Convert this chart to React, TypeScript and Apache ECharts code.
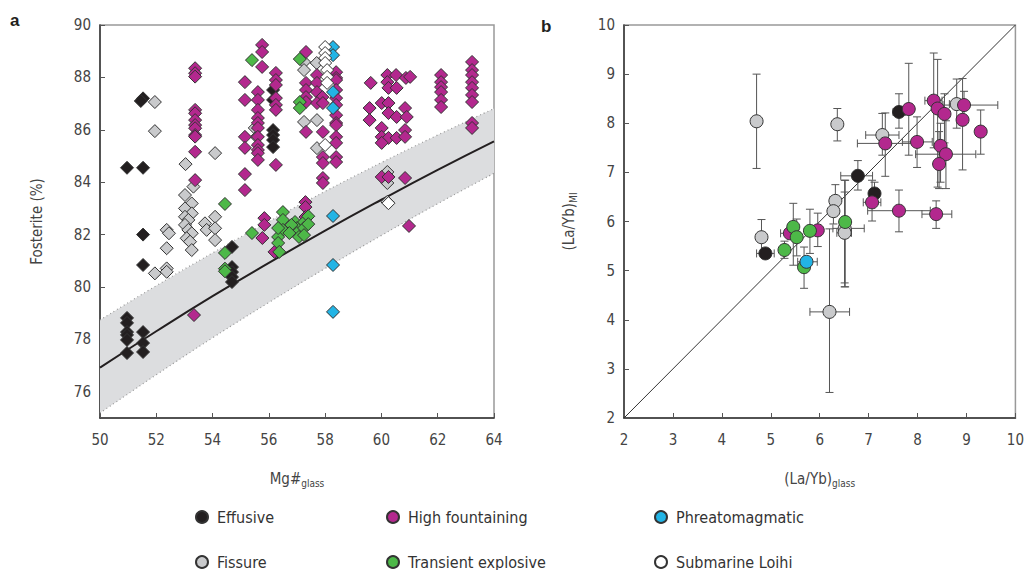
import React, { useEffect, useRef } from "react";
import * as echarts from "echarts";

// ---------- Panel a: Fo vs Mg#glass ----------
const mgTicks = [50, 52, 54, 56, 58, 60, 62, 64];
const foTicks = [76, 78, 80, 82, 84, 86, 88, 90];
// equilibrium curve and envelope
const curveMg = [50, 52, 54, 56, 58, 60, 62, 64];
const curveFo = [76.92, 78.31, 79.65, 80.92, 82.15, 83.33, 84.47, 85.56];
const upperFo = [78.74, 80.05, 81.3, 82.5, 83.65, 84.75, 85.8, 86.81];
const lowerFo = [75.19, 76.65, 78.06, 79.41, 80.71, 81.97, 83.18, 84.34];

const aEffusive = [
  [50.96, 78.82], [50.96, 78.63], [50.96, 78.28], [50.96, 78.17], [50.96, 77.98], [50.96, 77.48],
  [51.53, 78.28], [51.53, 77.86], [51.53, 77.52], [50.96, 84.55], [51.53, 84.55],
  [51.53, 87.2], [51.45, 87.1], [51.53, 82.0], [51.53, 80.84],
  [54.69, 81.53], [54.69, 80.76], [54.69, 80.57], [54.69, 80.38], [54.69, 80.19],
  [56.15, 87.52], [56.15, 87.14], [56.15, 85.99], [56.15, 85.8], [56.15, 85.61], [56.15, 85.34],
];
const aFissure = [
  [51.95, 87.06], [51.95, 85.95], [51.95, 80.52], [52.37, 80.71], [52.37, 80.58],
  [52.37, 82.18], [52.45, 82.05], [52.37, 81.48], [53.04, 84.69], [53.32, 83.83],
  [53.02, 83.51], [53.26, 83.19], [53.02, 83.0], [53.26, 82.81], [53.02, 82.68], [53.14, 82.56],
  [53.02, 82.37], [53.14, 82.18], [53.26, 82.05], [53.08, 81.86], [53.2, 81.73], [53.26, 81.41],
  [53.73, 82.43], [53.79, 82.18], [54.09, 82.68], [54.09, 82.24], [54.09, 81.79], [54.09, 85.11],
  [55.5, 86.07], [55.57, 85.73], [57.25, 88.59], [57.25, 88.28], [57.25, 86.3], [57.7, 88.55],
  [57.71, 86.37], [57.71, 85.3], [60.21, 84.39], [60.21, 83.97], [60.21, 83.25],
];
const aHighFountaining = [
  [53.38, 88.35], [53.38, 88.16], [53.38, 88.03], [53.38, 86.76], [53.38, 86.63], [53.38, 86.37],
  [53.38, 86.18], [53.38, 86.06], [53.38, 85.8], [53.38, 85.74], [53.38, 85.16], [53.38, 84.08],
  [53.34, 78.93],
  [55.15, 87.82], [55.15, 87.14], [55.15, 85.73], [55.15, 85.31], [55.15, 84.31], [55.15, 83.7],
  [55.76, 89.24], [55.76, 88.97], [55.76, 88.4], [55.61, 87.44], [55.61, 87.14], [55.61, 86.76],
  [55.61, 86.45], [55.61, 86.26], [55.61, 86.07], [55.61, 85.73], [55.61, 85.42], [55.61, 85.23],
  [55.61, 85.11], [55.61, 84.85],
  [56.25, 88.17], [56.25, 87.9], [56.25, 87.71], [56.25, 87.21], [56.25, 86.95], [56.25, 86.76],
  [56.25, 84.66], [55.84, 82.63], [55.84, 82.37], [55.77, 81.87], [56.2, 81.34],
  [57.32, 88.97], [57.32, 87.79], [57.32, 87.52], [57.32, 87.25], [57.32, 87.06], [57.32, 85.92],
  [57.3, 83.24], [57.3, 83.05], [57.3, 82.67],
  [57.71, 88.09], [57.71, 87.79], [57.71, 87.44], [57.9, 87.25], [57.71, 87.02], [57.92, 87.02],
  [57.92, 85.92], [57.92, 84.96], [57.92, 84.73], [57.92, 84.16], [57.92, 83.97],
  [58.39, 88.2], [58.39, 87.98], [58.39, 87.9], [58.39, 87.52], [58.39, 87.21], [58.39, 86.95],
  [58.39, 86.56], [58.39, 86.26], [58.39, 86.18], [58.39, 85.73], [58.39, 85.5], [58.39, 84.96],
  [58.39, 84.77],
  [59.62, 87.79], [59.58, 86.83], [59.58, 86.37],
  [60.21, 88.09], [60.52, 88.09], [60.87, 87.98], [61.02, 88.02], [60.21, 87.82], [60.25, 87.6],
  [60.54, 87.6], [60.01, 87.02], [60.25, 87.02], [60.25, 86.64], [60.54, 86.49], [60.84, 86.83],
  [60.9, 86.49], [60.01, 86.07], [60.01, 85.73], [60.25, 85.69], [60.54, 85.69], [60.84, 85.99],
  [60.84, 85.73], [60.01, 85.5], [60.01, 84.2], [60.25, 84.2], [60.84, 84.16], [60.98, 82.33],
  [62.12, 88.09], [62.12, 87.82], [62.12, 87.63], [62.12, 87.44], [62.12, 87.14], [62.12, 86.87],
  [63.22, 88.59], [63.22, 88.28], [63.22, 88.09], [63.22, 87.82], [63.22, 87.6], [63.22, 87.33],
  [63.22, 87.06], [63.22, 86.26], [63.22, 86.07],
];
const aTransientExplosive = [
  [54.44, 83.17], [54.44, 81.3], [54.44, 80.7], [54.44, 80.6], [55.4, 88.66], [55.4, 82.06],
  [57.1, 88.7], [57.1, 87.06], [57.1, 86.83],
  [56.5, 82.86], [56.5, 82.56], [56.5, 82.18], [56.33, 81.91], [56.33, 81.68], [56.37, 81.34],
  [56.93, 82.48], [57.0, 82.25], [57.0, 82.06], [57.07, 81.91], [57.25, 82.48], [57.25, 82.25],
  [57.25, 81.98], [56.8, 82.37], [56.73, 82.06], [56.33, 82.25], [57.4, 82.7], [57.4, 82.4],
];
const aPhreatomagmatic = [
  [58.28, 89.16], [58.28, 88.85], [58.28, 87.44], [58.28, 86.83], [58.28, 82.71], [58.28, 80.84],
  [58.28, 79.05],
];
const aSubmarineLoihi = [
  [58.0, 89.16], [58.0, 88.93], [58.0, 88.74], [58.0, 88.55], [58.07, 88.28], [58.07, 88.02],
  [58.07, 87.79], [58.0, 85.42], [60.25, 83.2],
];

// ---------- Panel b: (La/Yb)MI vs (La/Yb)glass ----------
// each row: x, y, x low, x high, y low, y high
const bEffusive = [
  [4.89, 5.35, 4.71, 5.07, 5.25, 5.45],
  [6.78, 6.93, 6.43, 7.08, 6.64, 7.24],
  [7.12, 6.57, 7.12, 7.12, 6.35, 6.8],
  [7.62, 8.23, 7.5, 7.75, 7.9, 8.6],
];
const bFissure = [
  [4.71, 8.04, 4.71, 4.71, 7.08, 9.0],
  [4.81, 5.68, 4.81, 4.81, 5.35, 6.04],
  [6.36, 7.98, 6.3, 6.42, 7.64, 8.3],
  [7.28, 7.76, 6.94, 7.62, 7.35, 8.2],
  [8.8, 8.39, 8.65, 8.95, 7.9, 8.9],
  [6.2, 4.16, 5.8, 6.61, 2.52, 5.85],
  [6.32, 6.42, 6.32, 6.32, 6.15, 6.75],
  [6.28, 6.21, 6.28, 6.28, 5.95, 6.5],
  [6.51, 5.86, 6.27, 6.91, 4.67, 6.84],
  [6.51, 5.77, 6.35, 6.65, 4.75, 6.6],
];
const bHighFountaining = [
  [5.39, 5.76, 5.2, 5.55, 5.76, 5.76],
  [5.96, 5.82, 5.96, 5.96, 5.49, 6.17],
  [7.07, 6.39, 6.89, 7.25, 6.01, 6.84],
  [7.62, 6.22, 6.98, 8.26, 5.79, 6.64],
  [8.38, 6.15, 8.09, 8.7, 5.86, 6.42],
  [7.82, 8.29, 7.82, 7.82, 7.35, 9.22],
  [7.34, 7.59, 6.77, 8.0, 6.92, 8.21],
  [7.99, 7.62, 7.69, 8.3, 7.1, 8.13],
  [8.33, 8.46, 8.15, 8.5, 7.5, 9.43],
  [8.41, 8.3, 8.41, 8.41, 6.7, 9.3],
  [8.55, 8.19, 8.45, 8.65, 7.6, 8.6],
  [8.95, 8.37, 8.52, 9.64, 8.1, 8.65],
  [8.92, 8.07, 8.92, 8.92, 7.05, 8.91],
  [9.29, 7.83, 9.29, 9.29, 7.37, 8.27],
  [8.47, 7.54, 8.47, 8.47, 6.8, 8.0],
  [8.58, 7.37, 7.96, 9.19, 6.67, 8.05],
  [8.44, 7.17, 8.44, 8.44, 6.67, 7.83],
];
const bTransientExplosive = [
  [5.28, 5.42, 5.28, 5.28, 5.25, 5.6],
  [5.46, 5.89, 5.46, 5.46, 5.11, 6.37],
  [5.53, 5.68, 5.45, 5.62, 5.3, 6.05],
  [5.8, 5.81, 5.8, 5.8, 5.35, 6.25],
  [5.68, 5.07, 5.68, 5.68, 4.64, 5.48],
  [6.52, 5.99, 6.52, 6.52, 4.67, 6.84],
];
const bPhreatomagmatic = [[5.73, 5.18, 5.55, 5.95, 5.18, 5.18]];
const bSubmarineLoihi: number[][] = [];
const diagonal = [[2, 2], [10, 10]];

const categories = [
  { name: "Fissure", color: "#c9cacc", a: aFissure, b: bFissure },
  { name: "Effusive", color: "#231f20", a: aEffusive, b: bEffusive },
  { name: "High fountaining", color: "#b3288e", a: aHighFountaining, b: bHighFountaining },
  { name: "Transient explosive", color: "#4db848", a: aTransientExplosive, b: bTransientExplosive },
  { name: "Phreatomagmatic", color: "#22b4e5", a: aPhreatomagmatic, b: bPhreatomagmatic },
  { name: "Submarine Loihi", color: "#ffffff", a: aSubmarineLoihi, b: bSubmarineLoihi },
];

// legend grid: [name, column, row]
const legendLayout: [string, number, number][] = [
  ["Effusive", 0, 0], ["High fountaining", 1, 0], ["Phreatomagmatic", 2, 0],
  ["Fissure", 0, 1], ["Transient explosive", 1, 1], ["Submarine Loihi", 2, 1],
];
const legendCols = [195, 386, 654];
const legendRows = [509, 554];

const FONT = "'DejaVu Sans Condensed', 'Liberation Sans Narrow', 'Roboto Condensed', Roboto, sans-serif";

export default function App() {
  const ref = useRef<HTMLDivElement>(null);
  useEffect(() => {
    if (!ref.current) return;
    const chart = echarts.init(ref.current, undefined, { renderer: "svg" });

    const axisText = { color: "#444", fontSize: 15, fontFamily: FONT };
    const nameStyle = {
      color: "#444",
      fontSize: 15,
      fontFamily: FONT,
      rich: {
        sub: { fontSize: 10, color: "#444", fontFamily: FONT, verticalAlign: "bottom", padding: [8, 0, 0, 0] },
      },
    };
    const axisLine = { show: true, lineStyle: { color: "#333", width: 1.5 } };
    const tick = { show: true, inside: true, length: 5, lineStyle: { color: "#555" } };

    const series: any[] = [];
    // grey envelope as polygon through the axis scale
    series.push({
      type: "custom", xAxisIndex: 0, yAxisIndex: 0, silent: true, z: 1,
      data: [[curveMg[0], curveFo[0]]],
      renderItem: (params: any, api: any) => {
        const pts: number[][] = [];
        curveMg.forEach((m, i) => pts.push(api.coord([m, upperFo[i]])));
        for (let i = curveMg.length - 1; i >= 0; i--) pts.push(api.coord([curveMg[i], lowerFo[i]]));
        return { type: "polygon", shape: { points: pts, smooth: 0 }, style: { fill: "#dcdddf", stroke: "none" } };
      },
    });
    series.push({
      type: "line", xAxisIndex: 0, yAxisIndex: 0, symbol: "none", silent: true, smooth: true,
      data: curveMg.map((m, i) => [m, lowerFo[i]]), lineStyle: { color: "#999", width: 1.2, type: [1, 3] }, z: 2,
    });
    series.push({
      type: "line", xAxisIndex: 0, yAxisIndex: 0, symbol: "none", silent: true, smooth: true,
      data: curveMg.map((m, i) => [m, upperFo[i]]), lineStyle: { color: "#999", width: 1.2, type: [1, 3] }, z: 2,
    });
    series.push({
      type: "line", xAxisIndex: 0, yAxisIndex: 0, symbol: "none", silent: true, smooth: true,
      data: curveMg.map((m, i) => [m, curveFo[i]]), lineStyle: { color: "#231f20", width: 2 }, z: 3,
    });
    // diagonal
    series.push({
      type: "line", xAxisIndex: 1, yAxisIndex: 1, symbol: "none", silent: true,
      data: diagonal, lineStyle: { color: "#333", width: 1 }, z: 1,
    });
    // error bars
    const errData: number[][] = [];
    categories.forEach((c) => c.b.forEach((r) => errData.push(r)));
    series.push({
      type: "custom", xAxisIndex: 1, yAxisIndex: 1, silent: true, z: 2,
      data: errData,
      renderItem: (params: any, api: any) => {
        const x = api.value(0), y = api.value(1);
        const xl = api.value(2), xh = api.value(3), yl = api.value(4), yh = api.value(5);
        const children: any[] = [];
        const st = { stroke: "#555", lineWidth: 1 };
        const cap = 4;
        if (yh > yl) {
          const p1 = api.coord([x, yl]), p2 = api.coord([x, yh]);
          children.push({ type: "line", shape: { x1: p1[0], y1: p1[1], x2: p2[0], y2: p2[1] }, style: st });
          children.push({ type: "line", shape: { x1: p1[0] - cap, y1: p1[1], x2: p1[0] + cap, y2: p1[1] }, style: st });
          children.push({ type: "line", shape: { x1: p2[0] - cap, y1: p2[1], x2: p2[0] + cap, y2: p2[1] }, style: st });
        }
        if (xh > xl) {
          const p1 = api.coord([xl, y]), p2 = api.coord([xh, y]);
          children.push({ type: "line", shape: { x1: p1[0], y1: p1[1], x2: p2[0], y2: p2[1] }, style: st });
          children.push({ type: "line", shape: { x1: p1[0], y1: p1[1] - cap, x2: p1[0], y2: p1[1] + cap }, style: st });
          children.push({ type: "line", shape: { x1: p2[0], y1: p2[1] - cap, x2: p2[0], y2: p2[1] + cap }, style: st });
        }
        return { type: "group", children };
      },
    });
    categories.forEach((c) => {
      series.push({
        name: c.name, type: "scatter", xAxisIndex: 0, yAxisIndex: 0, symbol: "diamond", symbolSize: 13,
        data: c.a, itemStyle: { color: c.color, borderColor: "#333", borderWidth: 1, opacity: 1 }, z: 4,
      });
    });
    categories.forEach((c) => {
      series.push({
        name: c.name, type: "scatter", xAxisIndex: 1, yAxisIndex: 1, symbol: "circle", symbolSize: 13,
        data: c.b.map((r) => [r[0], r[1]]), itemStyle: { color: c.color, borderColor: "#333", borderWidth: 1, opacity: 1 }, z: 4,
      });
    });

    const legends = legendLayout.map(([name, col, row]) => ({
      left: legendCols[col], top: legendRows[row], padding: 0, icon: "circle",
      itemWidth: 12, itemHeight: 12, selectedMode: false,
      textStyle: { color: "#333", fontSize: 16, fontFamily: FONT, padding: [0, 0, 0, 4] },
      data: [name],
    }));

    chart.setOption({
      animation: false,
      backgroundColor: "#fff",
      graphic: [
        { type: "text", left: 10, top: 12, style: { text: "a", font: "bold 17px Arial, sans-serif", fill: "#231f20" } },
        { type: "text", left: 541, top: 18, style: { text: "b", font: "bold 17px Arial, sans-serif", fill: "#231f20" } },
      ],
      legend: legends,
      grid: [
        { left: 100, top: 25, width: 394, height: 393, show: true, borderColor: "#999", borderWidth: 1.5, backgroundColor: "transparent" },
        { left: 624, top: 25, width: 395, height: 393, show: true, borderColor: "#999", borderWidth: 1.5, backgroundColor: "transparent" },
      ],
      xAxis: [
        {
          type: "value", gridIndex: 0, min: 50, max: 64, interval: 2,
          axisLine, axisTick: { ...tick, customValues: mgTicks }, splitLine: { show: false },
          axisLabel: { ...axisText, margin: 14, customValues: mgTicks },
          name: "Mg#{sub|glass}", nameLocation: "middle", nameGap: 52, nameTextStyle: nameStyle,
        },
        {
          type: "value", gridIndex: 1, min: 2, max: 10, interval: 1,
          axisLine, axisTick: tick, splitLine: { show: false },
          axisLabel: { ...axisText, margin: 14 },
          name: "(La/Yb){sub|glass}", nameLocation: "middle", nameGap: 52, nameTextStyle: nameStyle,
        },
      ],
      yAxis: [
        {
          type: "value", gridIndex: 0, min: 75, max: 90, interval: 1,
          axisLine, axisTick: { ...tick, customValues: foTicks }, splitLine: { show: false },
          axisLabel: { ...axisText, margin: 9, customValues: foTicks },
          name: "Fosterite (%)", nameLocation: "middle", nameGap: 56, nameTextStyle: nameStyle,
        },
        {
          type: "value", gridIndex: 1, min: 2, max: 10, interval: 1,
          axisLine, axisTick: tick, splitLine: { show: false },
          axisLabel: { ...axisText, margin: 9 },
          name: "(La/Yb){sub|MI}", nameLocation: "middle", nameGap: 46, nameTextStyle: nameStyle,
        },
      ],
      series,
    });
    return () => chart.dispose();
  }, []);
  return <div ref={ref} style={{ position: "absolute", left: 0, top: 0, width: 1027, height: 570 }} />;
}
